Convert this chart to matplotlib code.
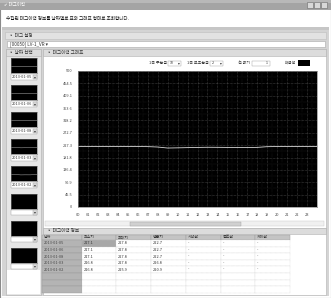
import numpy as np
import matplotlib
matplotlib.use("Agg")
import matplotlib.pyplot as plt
from matplotlib.patches import Rectangle

plt.rcParams['font.family'] = ['Noto Sans CJK KR', 'DejaVu Sans']

# data
hours = list(range(25))
values = [222.5, 222.6, 222.4, 222.5, 222.3, 222.4, 222.2, 222.0, 220.5, 216.8,
          217.5, 218.3, 219.0, 219.6, 219.4, 219.0, 218.9, 218.7, 219.2, 221.8,
          222.3, 222.5, 222.6, 222.7, 222.7]
hour_labels = ["%02d" % h for h in range(24)]
y_ticks = [0, 45.5, 90.9, 136.4, 181.8, 227.3, 272.7, 318.2, 363.6, 409.1, 454.5, 500]
y_labels = ["0", "45.5", "90.9", "136.4", "181.8", "227.3", "272.7", "318.2",
            "363.6", "409.1", "454.5", "500"]
thumb_dates = ["2013-01-05", "2013-01-06", "2013-01-08", "2013-01-03", "2013-01-02", "", "", ""]
table_cols = ["날짜", "최소치", "최대치", "평균치", "시작값", "종료값", "차이값"]
table_dates = ["2013-01-05", "2013-01-06", "2013-01-08", "2013-01-03", "2013-01-02"]
table_min = ["217.1", "217.1", "217.1", "216.8", "216.8"]
table_max = ["227.8", "227.8", "227.8", "227.8", "225.9"]
table_avg = ["222.7", "222.7", "222.7", "226.8", "220.9"]

W, H = 331, 298
fig = plt.figure(figsize=(W / 100, H / 100), dpi=100)
ui = fig.add_axes([0, 0, 1, 1])
ui.set_xlim(0, W)
ui.set_ylim(H, 0)
ui.axis('off')

FS = 3.3


def box(x0, y0, x1, y1, fc, ec='none', lw=0.4, z=1):
    ui.add_patch(Rectangle((x0, y0), x1 - x0, y1 - y0, facecolor=fc,
                           edgecolor=ec, linewidth=lw, zorder=z))


def txt(x, y, s, ha='left', color='#333333', size=FS, z=5):
    ui.text(x, y, s, ha=ha, va='center', fontsize=size, color=color, zorder=z)


def ax_at(x0, y0, x1, y1):
    return fig.add_axes([x0 / W, 1 - y1 / H, (x1 - x0) / W, (y1 - y0) / H])


# window frame
box(0, 0, W, H, '#ffffff', ec='#8a8a8a', lw=0.8)
box(0, 0, W, 10, '#a4a4a4')
box(0, 0, W, 3, '#b8b8b8')
txt(4, 5, "✔ 태그이력", color='#ffffff', size=3.2)
for bx in (307, 314, 321):
    box(bx, 2, bx + 6, 8, '#d8d8d8', ec='#6a6a6a', lw=0.4, z=3)
txt(6, 18, "수집된 태그이력 정보를 날짜별로 표와 그래프 형태로 조회합니다.", color='#111111')

# gray body
box(2, 27, W - 2, H - 2, '#d4d4d4')
box(2, 27, W - 2, 30, '#c6c6c6')

# tag setting
box(5, 32, W - 5, 39, '#e2e2e2', ec='#bdbdbd')
txt(9, 35.5, "▫ 태그 설정")
box(7, 41, W - 6, 47, '#ffffff', ec='#a8a8a8')
txt(10, 44, "[00050] LV-1_VR ▾")

# date selection panel
box(6, 49, 41, 295, '#e6e6e6', ec='#b0b0b0')
box(6, 49, 41, 56, '#dcdcdc', ec='#b0b0b0')
txt(9, 52.5, "▫ 날짜 선택")
box(7, 270, 40, 294, '#ffffff')
for i, d in enumerate(thumb_dates):
    ty = 58 + i * 27.1
    ta = ax_at(11, ty, 37, ty + 15)
    ta.set_facecolor('#000000')
    ta.set_xticks([])
    ta.set_yticks([])
    for s in ta.spines.values():
        s.set_color('#777777')
        s.set_linewidth(0.4)
    ta.set_xlim(0, 24)
    ta.set_ylim(0, 500)
    if d:
        ta.plot(hours, values, color='#9a9a9a', lw=0.4)
    box(11, ty + 16, 37, ty + 21.5, '#ffffff', ec='#9a9a9a', lw=0.3)
    box(32.5, ty + 16.5, 36.5, ty + 21, '#dedede', ec='#9a9a9a', lw=0.3, z=2)
    txt(34.5, ty + 18.7, "▾", ha='center', size=2.8)
    if d:
        txt(12, ty + 18.7, d, size=2.8)

# graph panel
box(43, 49, W - 5, 230, '#ffffff', ec='#b0b0b0')
box(43, 49, W - 5, 56, '#dcdcdc', ec='#b0b0b0')
txt(47, 52.5, "▫ 태그이력 그래프")
txt(167, 63, "1축 주눈금", ha='right', size=2.9)
box(168, 60.5, 181, 65.5, '#ffffff', ec='#9a9a9a', lw=0.3)
txt(170, 63, "10", size=2.6)
txt(179, 63, "▾", ha='center', size=2.6)
txt(209, 63, "1축 보조눈금", ha='right', size=2.9)
box(210, 60.5, 223, 65.5, '#ffffff', ec='#9a9a9a', lw=0.3)
txt(212, 63, "2", size=2.6)
txt(221, 63, "▾", ha='center', size=2.6)
txt(250, 63, "선 굵기", ha='right', size=2.9)
box(252, 60.5, 270, 65.5, '#ffffff', ec='#9a9a9a', lw=0.3, )
txt(268, 63, "1", ha='right', size=2.6)
txt(296, 63, "배경색", ha='right', size=2.9)
box(298, 60, 310, 66, '#000000')

# main chart
ax = ax_at(78, 71, 317, 207)
ax.set_facecolor('#000000')
ax.plot(hours, values, color='#d8d8d8', lw=0.6)
ax.set_xlim(0, 24)
ax.set_ylim(0, 500)
ax.set_xticks(range(24))
ax.set_xticklabels(hour_labels)
ax.set_yticks(y_ticks)
ax.set_yticklabels(y_labels)
ax.set_xticks(np.arange(0.5, 24, 1), minor=True)
ax.set_yticks(np.arange(22.75, 500, 45.45), minor=True)
ax.tick_params(labelsize=2.8, length=0, colors='#444444', pad=4)
ax.tick_params(which='minor', length=0)
ax.grid(True, color='#6a6a6a', lw=0.4, ls=(0, (1, 1.5)))
ax.grid(True, which='minor', color='#3a3a3a', lw=0.3, ls=(0, (1, 2)))
for s in ax.spines.values():
    s.set_color('#888888')
    s.set_linewidth(0.5)

# scrollbar
box(45, 221, W - 7, 226, '#f0f0f0', ec='#c8c8c8', lw=0.3)
box(130, 221.5, 241, 225.5, '#d0d0d0', ec='#a0a0a0', lw=0.3, z=2)

# table panel
box(43, 228, W - 5, 295, '#ffffff', ec='#b0b0b0')
box(43, 228, W - 5, 234, '#dcdcdc', ec='#b0b0b0')
txt(47, 231, "▫ 태그이력 정보")
col_x = [42, 82, 116, 151, 186, 221, 255, 290]
row_y = 240
row_h = 6.6
for c, name in enumerate(table_cols):
    box(col_x[c], 234.5, col_x[c + 1], row_y, '#c4c4c4', ec='#999999', lw=0.3)
    txt(col_x[c] + 2, 237.3, name, size=2.8)
for r in range(8):
    y0 = row_y + r * row_h
    box(col_x[0], y0, col_x[1], y0 + row_h, '#b4b4b4', ec='#9a9a9a', lw=0.3)
    for c in range(1, 7):
        fc = '#a8a8a8' if (r == 0 and c == 1) else '#ffffff'
        ui.add_patch(Rectangle((col_x[c], y0), col_x[c + 1] - col_x[c], row_h,
                               facecolor=fc, edgecolor='#c8c8c8', lw=0.3,
                               ls=(0, (1, 1)), zorder=1))
for r, d in enumerate(table_dates):
    yc = row_y + r * row_h + row_h / 2
    txt(col_x[0] + 2, yc, d, size=2.8, color='#444444')
    txt(col_x[1] + 2, yc, table_min[r], size=2.8)
    txt(col_x[2] + 2, yc, table_max[r], size=2.8)
    txt(col_x[3] + 2, yc, table_avg[r], size=2.8)
    for c in range(4, 7):
        txt(col_x[c] + 2, yc, "-", size=2.8)

fig.savefig("out.png", dpi=100)
